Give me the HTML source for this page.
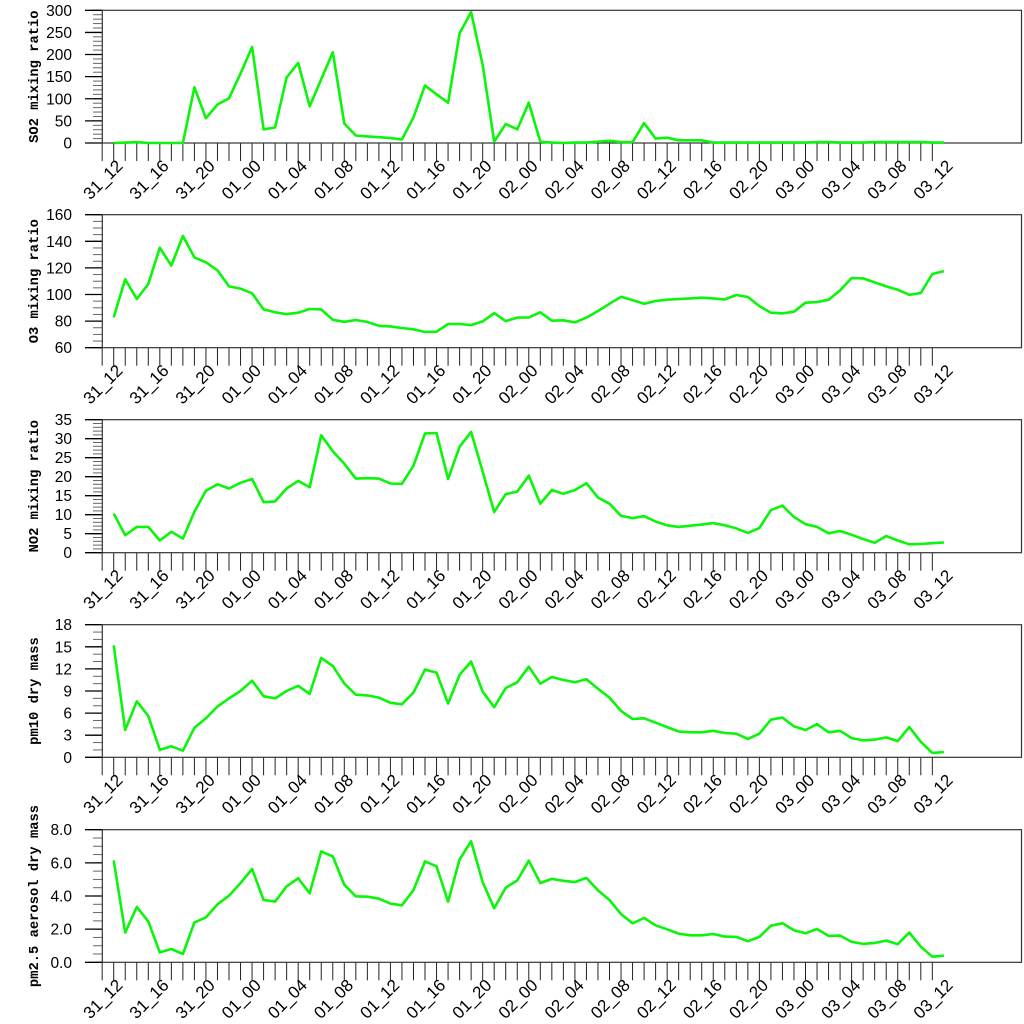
<!DOCTYPE html>
<html><head><meta charset="utf-8"><style>
html,body{margin:0;padding:0;background:#fff;}
svg{display:block;}
</style></head><body>
<svg id="chart" width="1024" height="1024" xmlns="http://www.w3.org/2000/svg"></svg>
<script>
const timeLabels = ["31_12","31_16","31_20","01_00","01_04","01_08","01_12","01_16","01_20","02_00","02_04","02_08","02_12","02_16","02_20","03_00","03_04","03_08","03_12"];
const so2 = [0,1,2,0,0,0,0,126,56,87,101,157,217,31,35,148,181,83,144,205,44,17,15,13,11,8,58,130,110,91,248,296,176,3,43,31,91,3,1,0,1,1,3,5,2,2,45,10,12,6,6,6,1,1,1,1,1,1,1,1,1,2,2,1,1,1,2,2,2,2,2,1,1];
const o3 = [82.8,111.4,96.6,107.9,135.2,121.7,144,127.9,124.2,118.1,106.1,104.4,100.9,88.8,86.6,85.3,86.3,89.1,88.8,81,79.5,80.8,79.3,76.5,76,74.8,73.8,71.8,72,77.8,77.8,77,79.8,86,80,82.6,82.8,86.6,80.3,80.6,79,82.6,87.6,93,98.3,95.8,93,95.1,96.1,96.6,97.1,97.6,97.1,96.3,99.6,98.1,91.3,86.3,85.8,87.1,93.8,94.3,96.1,103.1,112.4,112.1,109.1,106.1,103.6,99.8,101.1,115.4,117.6];
const no2 = [10.3,4.6,6.8,6.8,3.2,5.5,3.7,10.8,16.3,18,16.9,18.4,19.4,13.3,13.5,16.9,18.9,17.2,30.9,26.7,23.4,19.5,19.6,19.5,18.2,18.1,22.9,31.4,31.5,19.4,27.9,31.8,21.3,10.7,15.4,16.1,20.3,12.9,16.5,15.5,16.5,18.3,14.5,12.9,9.7,9.1,9.6,8.2,7.2,6.8,7.1,7.4,7.8,7.2,6.4,5.2,6.5,11.2,12.4,9.4,7.5,6.8,5.1,5.7,4.7,3.6,2.6,4.4,3.2,2.2,2.3,2.5,2.7];
const pm10 = [15.2,3.7,7.6,5.6,1.0,1.5,0.9,4.0,5.3,6.9,8.0,9.0,10.4,8.3,8.0,9.0,9.7,8.6,13.5,12.4,10.0,8.5,8.4,8.1,7.4,7.2,8.8,11.9,11.5,7.3,11.2,13.0,8.9,6.8,9.4,10.2,12.3,10.0,10.9,10.5,10.2,10.6,9.3,8.1,6.3,5.2,5.3,4.7,4.1,3.5,3.4,3.4,3.6,3.3,3.2,2.5,3.2,5.1,5.4,4.2,3.7,4.5,3.4,3.6,2.6,2.3,2.4,2.7,2.2,4.1,2.1,0.6,0.7];
const pm25 = [6.15,1.79,3.34,2.47,0.6,0.8,0.5,2.41,2.71,3.5,4.02,4.78,5.63,3.76,3.66,4.58,5.07,4.16,6.69,6.39,4.68,3.98,3.96,3.84,3.54,3.44,4.36,6.09,5.79,3.66,6.21,7.3,4.84,3.26,4.5,4.94,6.13,4.78,5.03,4.92,4.84,5.09,4.34,3.76,2.91,2.35,2.67,2.23,1.99,1.73,1.63,1.63,1.71,1.55,1.53,1.27,1.53,2.21,2.35,1.93,1.75,2.01,1.59,1.61,1.23,1.11,1.17,1.31,1.09,1.79,0.94,0.34,0.4];
const so2Ticks = ["0","50","100","150","200","250","300"];
const o3Ticks = ["60","80","100","120","140","160"];
const no2Ticks = ["0","5","10","15","20","25","30","35"];
const pm10Ticks = ["0","3","6","9","12","15","18"];
const pm25Ticks = ["0.0","2.0","4.0","6.0","8.0"];

const panels = [
  {name:"so2", title:"SO2 mixing ratio", data:so2, ticks:so2Ticks, min:0, max:300, minor:10, top:10.3, bottom:143},
  {name:"o3", title:"O3 mixing ratio", data:o3, ticks:o3Ticks, min:60, max:160, minor:5, top:214.7, bottom:347.7},
  {name:"no2", title:"NO2 mixing ratio", data:no2, ticks:no2Ticks, min:0, max:35, minor:1, top:419.7, bottom:552.7},
  {name:"pm10", title:"pm10 dry mass", data:pm10, ticks:pm10Ticks, min:0, max:18, minor:1, top:624.7, bottom:757.3},
  {name:"pm25", title:"pm2.5 aerosol dry mass", data:pm25, ticks:pm25Ticks, min:0, max:8, minor:0.5, top:829.7, bottom:962.3}
];
const NS = "http://www.w3.org/2000/svg";
const svg = document.getElementById("chart");
const LEFT = 102.3, RIGHT = 1021.5, X0 = 113.7, DX = 11.53;
function xPos(i){ return X0 + DX*i; }
function mk(tag, attrs, parent){
  const e = document.createElementNS(NS, tag);
  for (const k in attrs) e.setAttribute(k, attrs[k]);
  parent.appendChild(e); return e;
}
panels.forEach(p => {
  const g = mk("g", {}, svg);
  
  
  const yPos = v => p.bottom - (v - p.min)/(p.max - p.min)*(p.bottom - p.top);
  for (let v = p.min; v <= p.max + 1e-9; v += p.minor) {
    const t = mk("line", {x1:93, x2:LEFT, y1:yPos(v), y2:yPos(v), stroke:"#666", "stroke-width":1}, g);
    
    
  }
  p.ticks.forEach(lbl => {
    const v = parseFloat(lbl), y = yPos(v);
    const t = mk("line", {x1:85, x2:LEFT, y1:y, y2:y, stroke:"#000", "stroke-width":1.3}, g);
    
    
    const tx = mk("text", {x:72, y:y+5.5, "text-anchor":"end", "font-family":"Liberation Sans, sans-serif", "font-size":15.5, fill:"#000"}, g);
    tx.textContent = lbl;
    
    
  });
  for (let i = -1; i <= 71; i++) {
    const t = mk("line", {x1:xPos(i), x2:xPos(i), y1:p.bottom, y2:p.bottom+18, stroke:"#222", "stroke-width":1}, g);
    
    
  }
  timeLabels.forEach((lbl, k) => {
    const x = xPos(k*4) + 10, y = p.bottom + 24;
    const tx = mk("text", {x:x, y:y, "text-anchor":"end", transform:`rotate(-45 ${x} ${y})`, "font-family":"Liberation Sans, sans-serif", "font-size":17, fill:"#000"}, g);
    tx.textContent = lbl;
    
    
  });
  const fr = mk("rect", {x:LEFT, y:p.top, width:RIGHT-LEFT, height:p.bottom-p.top, fill:"none", stroke:"#333", "stroke-width":1.2}, g);
  
  
  const cy = (p.top + p.bottom)/2;
  const tt = mk("text", {x:38, y:cy, "text-anchor":"middle", transform:`rotate(-90 38 ${cy})`, "font-family":"Liberation Mono, monospace", "font-weight":"bold", "font-size":13.8, fill:"#000"}, g);
  tt.textContent = p.title;
  
  
  const pts = p.data.map((v, i) => xPos(i).toFixed(1) + "," + yPos(v).toFixed(1)).join(" ");
  const pl = mk("polyline", {points:pts, fill:"none", stroke:"#0af50a", "stroke-width":2.6, "stroke-linejoin":"round"}, g);
  
  
});
</script>
</body></html>
